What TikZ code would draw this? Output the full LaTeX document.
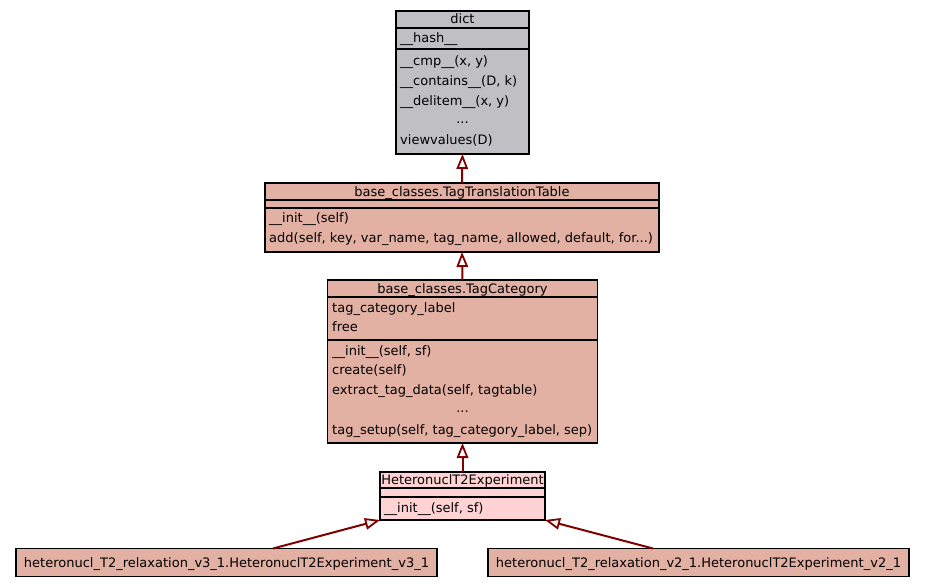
\documentclass[tikz,border=0pt]{standalone}
\usepackage{fontspec}
\setmainfont{DejaVu Sans}
\usetikzlibrary{arrows.meta}
\definecolor{dictfill}{RGB}{192,191,196}
\definecolor{salmon}{RGB}{227,177,163}
\definecolor{lpink}{RGB}{255,211,211}
\definecolor{edgered}{RGB}{128,0,0}
\tikzset{
  box/.style={draw=black, line width=1.2pt, inner sep=0pt, outer sep=0pt, rectangle},
  sep/.style={draw=black, line width=1.4pt},
  txt/.style={font=\fontsize{13}{15}\selectfont, inner sep=0pt, anchor=west, text height=9.4pt, text depth=2.8pt, yshift=-1.2pt},
  ttl/.style={font=\fontsize{13}{15}\selectfont, inner sep=0pt, anchor=center, text height=9.4pt, text depth=2.8pt, yshift=-1.2pt},
  inh/.style={draw=edgered, line width=2pt, -{Triangle[open, length=15pt, width=11.5pt, line width=1.8pt, fill=white]}}
}
\begin{document}
\begin{tikzpicture}[x=1pt, y=-1pt]
\useasboundingbox (0,0) rectangle (925,588);
\fill[white] (0,0) rectangle (925,588);
% dict
\node[box, fill=dictfill, minimum width=133pt, minimum height=143pt] (dict) at (462.5,82.5) {};
\draw[sep] (396,28) -- (529,28);
\draw[sep] (396,49) -- (529,49);
\node[ttl] (dictT) at (462.5,19.5) {dict};
\node[txt] (d1) at (400,38.5) {\_\_hash\_\_};
\node[txt] (d2) at (400,61) {\_\_cmp\_\_(x, y)};
\node[txt] (d3) at (400,81) {\_\_contains\_\_(D, k)};
\node[txt] (d4) at (400,101) {\_\_delitem\_\_(x, y)};
\node[ttl] (d5) at (462.5,119) {...};
\node[txt] (d6) at (400,140) {viewvalues(D)};
% TagTranslationTable
\node[box, fill=salmon, minimum width=394pt, minimum height=69pt] (ttt) at (462,217.5) {};
\draw[sep] (265,200) -- (659,200);
\draw[sep] (265,208) -- (659,208);
\node[ttl] (tttT) at (462,191.5) {base\_classes.TagTranslationTable};
\node[txt] (t1) at (269,217.5) {\_\_init\_\_(self)};
\node[txt] (t2) at (269,237.5) {add(self, key, var\_name, tag\_name, allowed, default, for...)};
% TagCategory
\node[box, fill=salmon, minimum width=270pt, minimum height=163pt] (tc) at (462.5,361.5) {};
\draw[sep] (327.5,297) -- (597.5,297);
\draw[sep] (327.5,340) -- (597.5,340);
\node[ttl] (tcT) at (462.5,288.5) {base\_classes.TagCategory};
\node[txt] (c1) at (332,308) {tag\_category\_label};
\node[txt] (c2) at (332,327) {free};
\node[txt] (c3) at (332,351) {\_\_init\_\_(self, sf)};
\node[txt] (c4) at (332,370) {create(self)};
\node[txt] (c5) at (332,389.5) {extract\_tag\_data(self, tagtable)};
\node[ttl] (c6) at (462.5,408) {...};
\node[txt] (c7) at (332,430) {tag\_setup(self, tag\_category\_label, sep)};
% HeteronuclT2Experiment
\node[box, fill=lpink, minimum width=165pt, minimum height=48pt] (he) at (462.5,496) {};
\draw[sep] (380,488) -- (545,488);
\draw[sep] (380,497) -- (545,497);
\node[ttl] (heT) at (462.5,480) {HeteronuclT2Experiment};
\node[txt] (h1) at (384,508) {\_\_init\_\_(self, sf)};
% bottom boxes
\node[box, fill=salmon, minimum width=421pt, minimum height=28pt] (v3) at (226.5,562.5) {};
\node[ttl] (v3t) at (226.5,562.5) {heteronucl\_T2\_relaxation\_v3\_1.HeteronuclT2Experiment\_v3\_1};
\node[box, fill=salmon, minimum width=421pt, minimum height=28pt] (v2) at (698.5,562.5) {};
\node[ttl] (v2t) at (698.5,562.5) {heteronucl\_T2\_relaxation\_v2\_1.HeteronuclT2Experiment\_v2\_1};
% edges
\draw[inh] (ttt.north) -- (dict.south);
\draw[inh] (tc.north) -- (ttt.south);
\draw[inh] (he.north) -- (tc.south);
\coordinate (v3top) at (273,548.5);
\coordinate (v2top) at (653,548.5);
\draw[inh] (v3top) -- (he.south west);
\draw[inh] (v2top) -- (he.south east);
\end{tikzpicture}
\end{document}
